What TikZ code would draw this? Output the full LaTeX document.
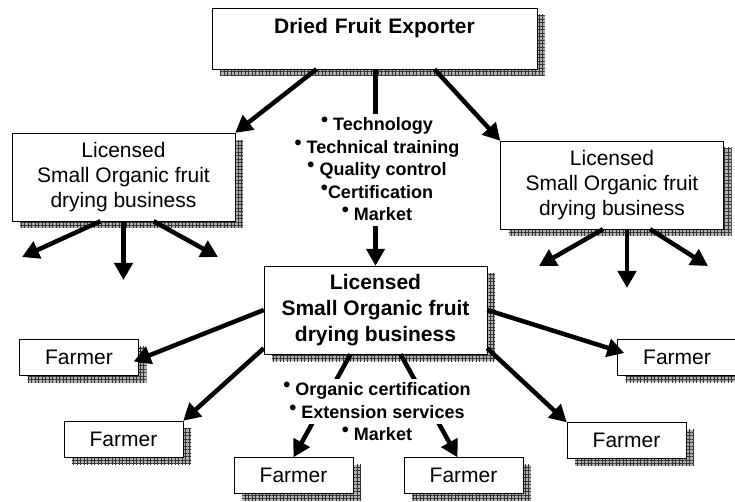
\documentclass[tikz,border=0pt]{standalone}
\usepackage{fontspec}
\setmainfont{Liberation Sans}
\usetikzlibrary{arrows.meta,patterns.meta,shadows}

\newcommand{\blt}{\raisebox{4pt}{\fontsize{20}{20}\selectfont\textbullet}}

\begin{document}
\begin{tikzpicture}[x=1pt,y=-1pt,
    shade/.style={general shadow={shadow xshift=8pt,shadow yshift=-7pt,fill=gray!60},
      general shadow={shadow xshift=8pt,shadow yshift=-7pt,
        pattern={Hatch[distance=3.5pt,line width=0.45pt]},pattern color=black!80}},
    box/.style={shade,draw,fill=white,inner sep=0pt,align=center},
    biz/.style={box,minimum width=223pt,minimum height=88pt,font=\fontsize{21}{25}\selectfont},
    farm/.style={box,minimum width=119pt,minimum height=36pt,font=\fontsize{21}{25}\selectfont},
    item/.style={fill=white,inner xsep=1pt,inner ysep=0pt,text height=17pt,text depth=5.5pt,
      font=\bfseries\fontsize{18}{22}\selectfont},
    link/.style={line width=4.5pt,-{Triangle[length=17pt,width=18pt]}}]
  \clip (0,0) rectangle (735,502);

  % boxes
  \node [box,font=\bfseries\fontsize{21}{25}\selectfont,text width=325pt,text height=26pt,text depth=35pt] (exp) at (374.5,38.5) {Dried Fruit Exporter};
  \node [biz] (bizL) at (123.5,177) {Licensed\\Small Organic fruit\\drying business};
  \node [biz] (bizR) at (612,185) {Licensed\\Small Organic fruit\\drying business};
  \node [biz,font=\bfseries\fontsize{21}{26}\selectfont] (hub) at (375.5,310) {Licensed\\Small Organic fruit\\drying business};
  \node [farm] (farmW) at (79,357.5) {Farmer};
  \node [farm] (farmSW) at (123.5,439) {Farmer};
  \node [farm] (farmS1) at (293.5,475.5) {Farmer};
  \node [farm] (farmS2) at (463.5,475.5) {Farmer};
  \node [farm] (farmSE) at (626.5,440.5) {Farmer};
  \node [farm] (farmE) at (677,357) {Farmer};

  % loose ends below the side businesses
  \coordinate (outL1) at (22,257);
  \coordinate (outL2) at (123.5,280);
  \coordinate (outL3) at (218,257);
  \coordinate (outR1) at (539,266);
  \coordinate (outR2) at (627,288);
  \coordinate (outR3) at (708,266);

  % exporter
  \draw [link] ([xshift=-58pt]exp.south) to (bizL.north east);
  \draw [link] ([xshift=60pt]exp.south) to (bizR.north west);
  \draw [link] (exp.south -| hub.north) to (hub.north);

  % side businesses
  \draw [link] ([xshift=-23pt]bizL.south) to (outL1);
  \draw [link] (bizL.south) to (outL2);
  \draw [link] ([xshift=30pt]bizL.south) to (outL3);
  \draw [link] ([xshift=-9pt]bizR.south) to (outR1);
  \draw [link] ([xshift=15pt]bizR.south) to (outR2);
  \draw [link] ([xshift=38pt]bizR.south) to (outR3);

  % hub to farmers
  \draw [link] (hub.west) to ([shift={(-5pt,-4pt)}]farmW.east);
  \draw [link] ([yshift=6pt]hub.south west) to (farmSW.north east);
  \draw [link] ([xshift=-25pt]hub.south) to (farmS1.north);
  \draw [link] ([xshift=25pt]hub.south) to ([xshift=-6pt]farmS2.north);
  \draw [link] ([yshift=6pt]hub.south east) to (farmSE.north west);
  \draw [link] (hub.east) to ([shift={(7pt,4pt)}]farmE.west);

  % services written over the links
  \foreach \txt [count=\i] in {\blt\ Technology,\blt\ Technical training,\blt\ Quality control,\blt Certification,\blt\ Market}
    \node [item] (up\i) at (377,{102.5+22.5*\i}) {\txt};
  \foreach \txt [count=\i] in {\blt\ Organic certification,\blt\ Extension services,\blt\ Market}
    \node [item] (down\i) at (377,{367.5+22.5*\i}) {\txt};
\end{tikzpicture}
\end{document}
